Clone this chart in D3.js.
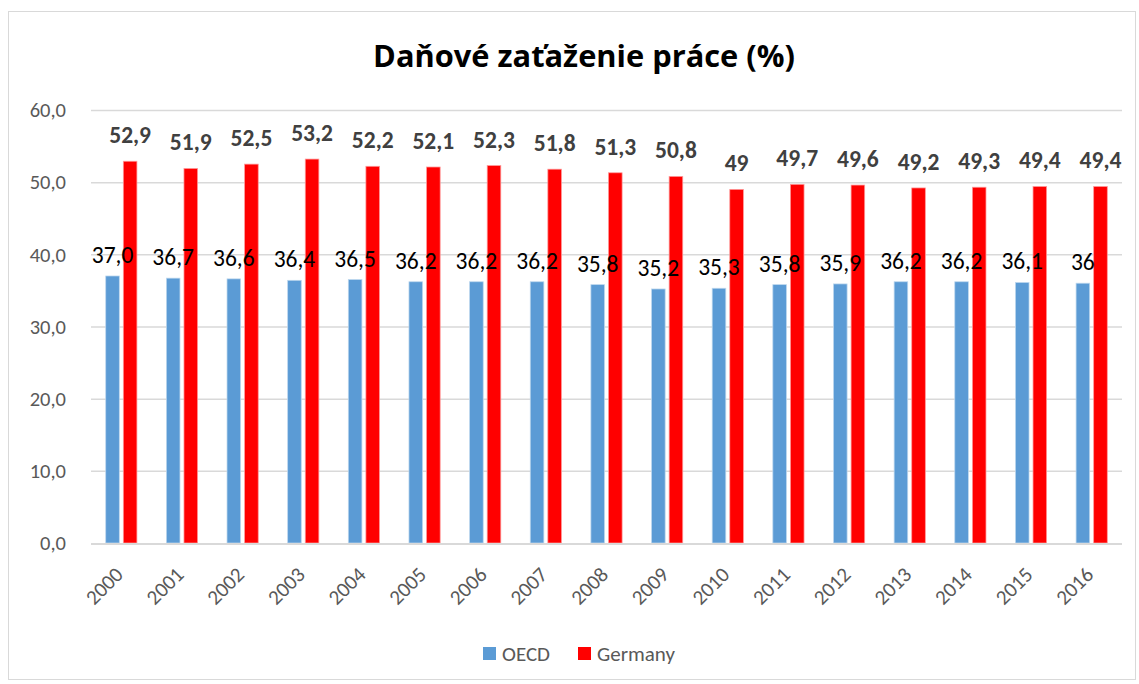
<!DOCTYPE html>
<html><head><meta charset="utf-8">
<script src="https://cdn.jsdelivr.net/npm/d3@7"></script>
<style>
html,body{margin:0;padding:0;background:#fff;}
text{font-family:Carlito, Calibri, Lato, "Open Sans", sans-serif;}
</style></head>
<body>
<svg id="c" width="1139" height="684"></svg>
<script>
const years = ["2000","2001","2002","2003","2004","2005","2006","2007","2008","2009","2010","2011","2012","2013","2014","2015","2016"];
const oecd = [37.0,36.7,36.6,36.4,36.5,36.2,36.2,36.2,35.8,35.2,35.3,35.8,35.9,36.2,36.2,36.1,36];
const germany = [52.9,51.9,52.5,53.2,52.2,52.1,52.3,51.8,51.3,50.8,49,49.7,49.6,49.2,49.3,49.4,49.4];
const oecdLabels = ["37,0","36,7","36,6","36,4","36,5","36,2","36,2","36,2","35,8","35,2","35,3","35,8","35,9","36,2","36,2","36,1","36"];
const germanyLabels = ["52,9","51,9","52,5","53,2","52,2","52,1","52,3","51,8","51,3","50,8","49","49,7","49,6","49,2","49,3","49,4","49,4"];
const yTicks = [0,10,20,30,40,50,60];
const yTickLabels = ["0,0","10,0","20,0","30,0","40,0","50,0","60,0"];
const seriesNames = ["OECD","Germany"];
const colors = ["#5B9BD5","#FF0000"];

(function(){
const svg = d3.select("#c");
svg.append("rect").attr("x",8.5).attr("y",11.5).attr("width",1127).attr("height",668)
  .attr("fill","#fff").attr("stroke","#d9d9d9").attr("stroke-width",1);

svg.append("text").attr("x",584).attr("y",67).attr("text-anchor","middle")
  .attr("font-size",30.8).attr("font-weight","bold").attr("fill","#000")
  .style("font-family","'Open Sans', sans-serif")
  .text("Daňové zaťaženie práce (%)");

const pl=91, pr=1122, pt=110, pb=543;
const x = d3.scaleBand().domain(years).range([pl,pr]);
const y = d3.scaleLinear().domain([0,60]).range([pb,pt]);

svg.append("g").selectAll("line").data(yTicks.filter(d=>d>0)).join("line")
  .attr("x1",pl).attr("x2",pr).attr("y1",d=>y(d)+0.5).attr("y2",d=>y(d)+0.5)
  .attr("stroke","#d9d9d9").attr("stroke-width",1.5);

svg.append("g").selectAll("text").data(yTicks).join("text")
  .attr("x",66).attr("y",d=>y(d)).attr("dy","0.35em").attr("text-anchor","end")
  .attr("font-size",20.5).attr("fill","#595959").text((d,i)=>yTickLabels[i]);

const bw = 13.6, gap = 4;
const cx = d => x(d)+x.bandwidth()/2;

const g = svg.append("g");
g.selectAll("rect.o").data(years).join("rect").attr("class","o")
  .attr("x",d=>cx(d)-gap/2-bw).attr("width",bw)
  .attr("y",(d,i)=>y(oecd[i])).attr("height",(d,i)=>y(0)-y(oecd[i]))
  .attr("fill",colors[0]).attr("stroke","#bdd7ee").attr("stroke-width",0.75);
g.selectAll("rect.g").data(years).join("rect").attr("class","g")
  .attr("x",d=>cx(d)+gap/2).attr("width",bw)
  .attr("y",(d,i)=>y(germany[i])).attr("height",(d,i)=>y(0)-y(germany[i]))
  .attr("fill",colors[1]).attr("stroke","#ff9999").attr("stroke-width",0.75);

svg.append("line").attr("x1",pl).attr("x2",pr).attr("y1",pb+1).attr("y2",pb+1)
  .attr("stroke","#d9d9d9").attr("stroke-width",2);

svg.append("g").selectAll("text").data(years).join("text")
  .attr("x",d=>cx(d)-gap/2-bw/2).attr("y",(d,i)=>y(oecd[i])-13)
  .attr("text-anchor","middle").attr("font-size",23.5).attr("fill","#000")
  .text((d,i)=>oecdLabels[i]);
svg.append("g").selectAll("text").data(years).join("text")
  .attr("x",d=>cx(d)+gap/2+bw/2).attr("y",(d,i)=>y(germany[i])-18)
  .attr("text-anchor","middle").attr("font-size",23.5).attr("font-weight","bold").attr("fill","#404040")
  .text((d,i)=>germanyLabels[i]);

svg.append("g").selectAll("text").data(years).join("text")
  .attr("transform",d=>`translate(${cx(d)+3},${pb+33}) rotate(-45)`)
  .attr("text-anchor","end")
  .attr("font-size",21).attr("fill","#595959").text(d=>d);

const lg = svg.append("g");
const items = [{x:483,name:seriesNames[0],c:colors[0]},{x:578,name:seriesNames[1],c:colors[1]}];
items.forEach(it=>{
  lg.append("rect").attr("x",it.x).attr("y",647).attr("width",13).attr("height",13).attr("fill",it.c);
  lg.append("text").attr("x",it.x+19).attr("y",661).attr("font-size",21).attr("fill","#595959").text(it.name);
});
})();
</script>
</body></html>
